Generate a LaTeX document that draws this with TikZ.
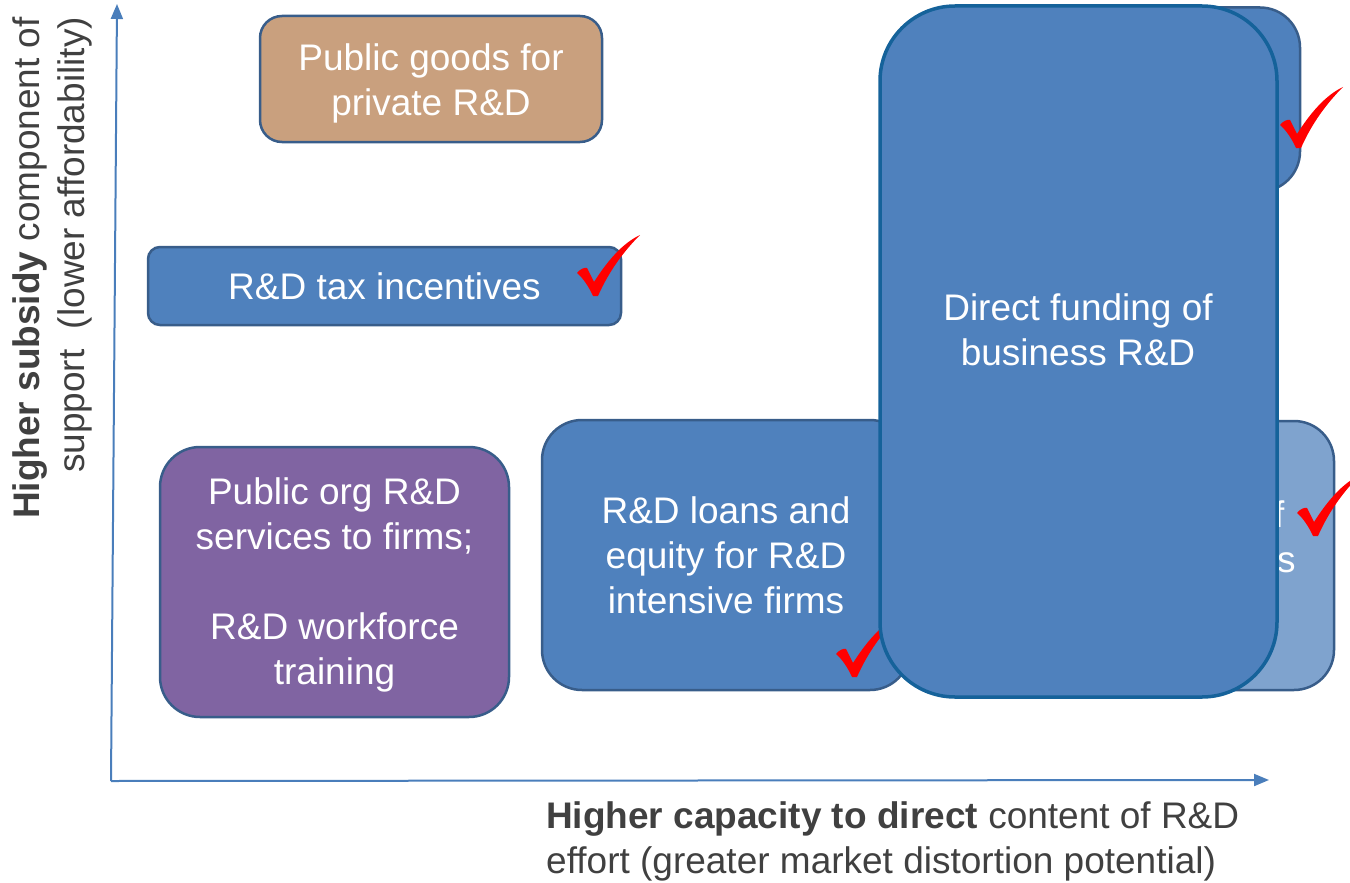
\documentclass[tikz,border=0pt]{standalone}
\usepackage{fontspec}
\setmainfont{Liberation Sans}
\usetikzlibrary{arrows.meta,positioning}

\definecolor{rdblue}{HTML}{4F81BD}
\definecolor{rdline}{HTML}{385D8A}
\definecolor{rdtan}{HTML}{C9A07E}
\definecolor{rdpurple}{HTML}{8064A2}
\definecolor{rdlight}{HTML}{7FA3CE}
\definecolor{rdedge}{HTML}{15629A}
\definecolor{axisblue}{HTML}{4A7EBB}
\definecolor{labelgray}{HTML}{404040}
\newcommand\rdfont{\fontsize{37}{45}\selectfont}
% taller first line pushes the text block down a little
\newcommand\rdtop[1]{\rule{0pt}{#1}}

\begin{document}
\begin{tikzpicture}[x=1pt,y=-1pt,
    box/.style={draw=rdline,line width=2.5pt,rounded corners=40pt,inner sep=0pt,
      text=white,align=center,font=\rdfont},
    axis/.style={draw=axisblue,line width=2pt,-{Triangle[length=15pt,width=12pt]}},
    rdtick/.pic={
      \fill[red] (0,0) .. controls (-4,-9) and (-10,-18) .. (-16,-23)
        .. controls (-13,-27) and (-8,-29) .. (-6,-28) -- (1,-14)
        .. controls (15,-36) and (30,-53) .. (47,-61)
        .. controls (31,-45) and (16,-25) .. (5,0) -- cycle;}]
    \useasboundingbox (0,0) rectangle (1350,883);
    %axes
    \coordinate (O) at (111,781);
    \coordinate (ytop) at (117,4);
    \coordinate (xend) at (1269,780);
    \draw[axis] (O) -- (ytop);
    \draw[axis] (O) -- (xend);
    %instruments
    \node[box,fill=rdtan,rounded corners=22pt,minimum width=342pt,minimum height=126pt]
      (goods) at (431,79) {\rdtop{36pt}Public goods for\\private R\&D};
    \node[box,fill=rdblue,rounded corners=12pt,minimum width=473pt,minimum height=78pt]
      (tax) at (384.5,286) {R\&D tax incentives};
    \node[box,fill=rdpurple,minimum width=349pt,minimum height=270pt]
      (org) at (334.5,582) {\rdtop{33pt}Public org R\&D\\services to firms;\\[45pt]R\&D workforce\\training};
    \node[box,fill=rdblue,minimum width=368pt,minimum height=270pt]
      (loans) at (726,555) {R\&D loans and\\equity for R\&D\\intensive firms};
    \node[box,fill=rdblue,minimum width=370pt,minimum height=184pt]
      (grants) at (1115,99.5) {};
    \node[box,fill=rdlight,minimum width=369pt,minimum height=269pt]
      (procure) at (1149.5,555.5) {};
    \node[text=white,align=center,font=\rdfont] (procuretext) at (1158,537)
      {Procurement of\\R\&D innovations};
    %ticks
    \pic at (593,296) {rdtick};
    \pic at (852,677) {rdtick};
    \pic at (1296,148) {rdtick};
    \pic at (1313,536) {rdtick};
    %direct funding on top
    \node[box,draw=rdedge,line width=3.5pt,fill=rdblue,rounded corners=75pt,
      minimum width=397pt,minimum height=691pt] (direct) at (1078.5,351.5) {};
    \node[text=white,align=center,font=\rdfont] (directtext) at (1078,330)
      {Direct funding of\\business R\&D};
    %axis labels
    \node[rotate=90,align=right,font=\rdfont,text=labelgray] (ylab) at (52,268)
      {\textbf{Higher subsidy} component of\\support~ (lower affordability)};
    \node[anchor=north west,align=left,font=\rdfont,text=labelgray,inner sep=0pt]
      (xlab) at (546,801)
      {\textbf{Higher capacity to direct} content of R\&D\\effort (greater market distortion potential)};
\end{tikzpicture}
\end{document}
